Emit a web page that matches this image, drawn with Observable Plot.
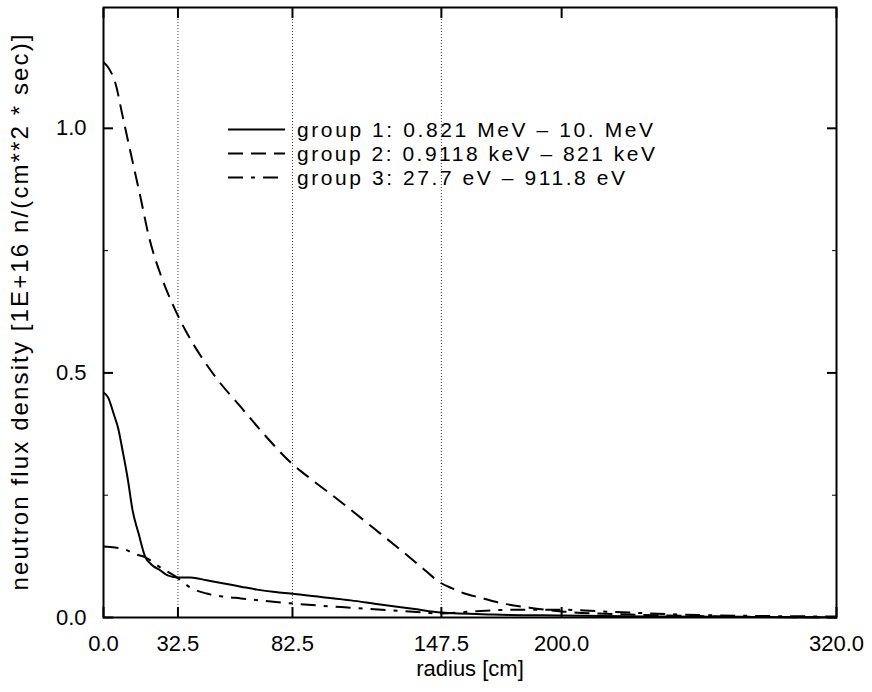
<!DOCTYPE html>
<html><head><meta charset="utf-8">
<script src="https://cdn.jsdelivr.net/npm/d3@7"></script>
<script src="https://cdn.jsdelivr.net/npm/@observablehq/plot@0.6"></script>
<style>body{margin:0;background:#fff} svg{display:block}</style>
</head><body><div id="chart"></div><script>
const radius1 = [0, 2, 4.4, 6.5, 8.3, 10.5, 12.7, 15.3, 18.3, 21, 24.9, 28, 32.3, 38, 45, 52, 60, 67, 75, 81.7, 95, 108, 120, 135, 147.5, 170, 200, 240, 280, 320];
const flux1   = [0.46, 0.45, 0.417, 0.385, 0.342, 0.286, 0.219, 0.172, 0.123, 0.108, 0.096, 0.086, 0.082, 0.082, 0.076, 0.07, 0.063, 0.057, 0.052, 0.049, 0.042, 0.035, 0.027, 0.018, 0.01, 0.006, 0.004, 0.002, 0.001, 0.0005];

const radius2 = [0, 2, 5.2, 8.3, 11.8, 16.2, 19.7, 25, 31.4, 36, 42.4, 50, 60, 70, 81.7, 90, 99, 108, 121, 130, 138, 147.5, 152, 157, 165, 172, 186, 201, 230, 260, 290, 320];
const flux2   = [1.135, 1.125, 1.092, 1.026, 0.951, 0.858, 0.781, 0.70, 0.628, 0.585, 0.535, 0.485, 0.43, 0.375, 0.317, 0.285, 0.253, 0.22, 0.171, 0.137, 0.106, 0.07, 0.06, 0.05, 0.04, 0.031, 0.02, 0.012, 0.006, 0.003, 0.001, 0.0005];

const radius3 = [0, 5, 10, 13, 18.3, 24.9, 31.4, 38, 45, 52, 60, 70, 81.7, 95, 108, 125, 140, 147.5, 160, 180, 200, 215, 230, 260, 290, 320];
const flux3   = [0.145, 0.143, 0.138, 0.131, 0.123, 0.102, 0.084, 0.061, 0.049, 0.043, 0.039, 0.034, 0.029, 0.024, 0.02, 0.015, 0.01, 0.008, 0.012, 0.016, 0.016, 0.013, 0.01, 0.005, 0.003, 0.002];

const groupLabels = ["group 1: 0.821 MeV – 10. MeV", "group 2: 0.9118 keV – 821 keV", "group 3: 27.7 eV – 911.8 eV"];
const xTicks = [0, 32.5, 82.5, 147.5, 200, 320];
const xGrid = [32.5, 82.5, 147.5];
const yMajor = [0, 0.5, 1.0];
const yMinor = [0.25, 0.75];
const xLabel = "radius [cm]";
const yLabel = "neutron flux density [1E+16 n/(cm**2 * sec)]";

const dashes = ["none", "15,8", "15,8,4,8"];
const series = [[radius1, flux1], [radius2, flux2], [radius3, flux3]];
const rows = series.map(([r, f], i) => r.map((x, j) => ({group: groupLabels[i], r: x, v: f[j]})));

const FONT = "'Liberation Sans', Arial, sans-serif";
const fmt = d3.format(".1f");
const chart = Plot.plot({
  width: 872, height: 692,
  marginLeft: 103, marginRight: 36, marginTop: 7, marginBottom: 75,
  style: {fontFamily: FONT, fontSize: "22px", background: "#fff", color: "#000", overflow: "visible"},
  x: {domain: [0, 320]},
  y: {domain: [0, 1.247]},
  marks: [
    Plot.ruleX(xGrid, {stroke: "#444", strokeWidth: 1, strokeDasharray: "1,2"}),
    Plot.axisX({anchor: "bottom", ticks: xTicks, tickSize: 0, tickPadding: 18, tickFormat: fmt, label: null}),
    Plot.axisX({anchor: "bottom", ticks: xTicks, tickSize: -10, tickFormat: () => "", strokeWidth: 2, label: null}),
    Plot.axisX({anchor: "top", ticks: xTicks, tickSize: -10, tickFormat: () => "", strokeWidth: 2, label: null}),
    Plot.axisY({anchor: "left", ticks: yMajor, tickSize: 0, tickPadding: 17, tickFormat: fmt, label: null}),
    Plot.axisY({anchor: "left", ticks: yMajor, tickSize: -10, tickFormat: () => "", strokeWidth: 2, label: null}),
    Plot.axisY({anchor: "left", ticks: yMinor, tickSize: -5, tickFormat: () => "", strokeWidth: 1, label: null}),
    Plot.axisY({anchor: "right", ticks: yMajor, tickSize: -10, tickFormat: () => "", strokeWidth: 2, label: null}),
    Plot.axisY({anchor: "right", ticks: yMinor, tickSize: -5, tickFormat: () => "", strokeWidth: 1, label: null}),
    ...rows.map((data, i) => Plot.line(data, {x: "r", y: "v", stroke: "#000", strokeWidth: 2, strokeDasharray: dashes[i], strokeLinecap: "butt", curve: "monotone-x"})),
    Plot.frame({stroke: "#000", strokeWidth: 2}),
    Plot.text([xLabel], {frameAnchor: "bottom", dy: 58, fontSize: 22, fill: "#000"}),
    Plot.text([yLabel], {frameAnchor: "left", dx: -83, rotate: -90, textAnchor: "middle", lineAnchor: "middle", fontSize: 24, fill: "#000", className: "ylab"})
  ]
});
document.getElementById("chart").appendChild(chart);

// stretch y label to the reference's spacing
d3.select(chart).selectAll(".ylab text").attr("textLength", 556).attr("lengthAdjust", "spacing");

// legend inside the plot area
const legendWidths = [356, 358, 328];
const lg = d3.select(chart).append("g").attr("font-family", FONT).attr("font-size", 21).attr("text-anchor", "start");
groupLabels.forEach((lab, i) => {
  const y = 129.5 + i * 24;
  lg.append("line").attr("x1", 228).attr("x2", 285).attr("y1", y).attr("y2", y)
    .attr("stroke", "#000").attr("stroke-width", 2).attr("stroke-dasharray", dashes[i]);
  lg.append("text").attr("x", 297).attr("y", y).attr("dy", "0.35em").attr("fill", "#000")
    .attr("textLength", legendWidths[i]).attr("lengthAdjust", "spacing").text(lab);
});
</script></body></html>
